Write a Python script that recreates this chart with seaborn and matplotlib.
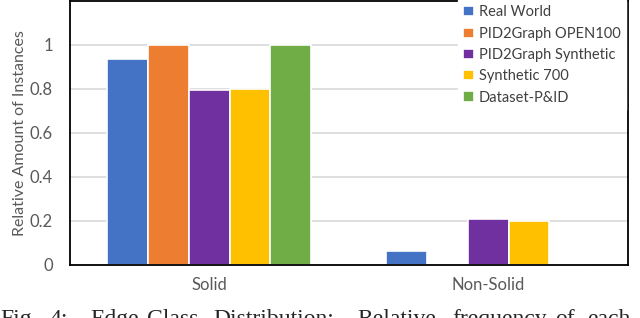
import pandas as pd
import matplotlib.pyplot as plt
import seaborn as sns

# Relative frequency of each edge class per dataset
classes = ['Solid', 'Non-Solid']
datasets = ['Real World', 'PID2Graph OPEN100', 'PID2Graph Synthetic', 'Synthetic 700', 'Dataset-P&ID']
solid = [0.935, 1.0, 0.793, 0.80, 1.0]
non_solid = [0.065, 0.0, 0.207, 0.20, 0.0]
colors = ['#4472C4', '#ED7D31', '#7030A0', '#FFC000', '#70AD47']

caption_words = ['Fig.', '4:', 'Edge', 'Class', 'Distribution:', 'Relative', 'frequency', 'of', 'each']
caption_x = [0, 50, 90, 147, 213, 357, 452, 555, 587]

df = pd.DataFrame({
    'Edge Class': [c for c in classes for _ in datasets],
    'Dataset': datasets * len(classes),
    'Value': solid + non_solid,
})

sns.set_style('white')
plt.rcParams['font.family'] = ['Lato', 'DejaVu Sans']

fig = plt.figure(figsize=(6.4, 3.18), dpi=100)
ax = fig.add_axes([0.109, 0.167, 0.872, 0.830])

sns.barplot(data=df, x='Edge Class', y='Value', hue='Dataset', hue_order=datasets,
            palette=colors, width=0.73, edgecolor='white', linewidth=1.2,
            saturation=1, ax=ax)

ax.set_ylim(0, 1.2)
ax.set_xlim(-0.5, 1.5)
ax.set_yticks([0, 0.2, 0.4, 0.6, 0.8, 1.0])
ax.set_yticklabels(['0', '0.2', '0.4', '0.6', '0.8', '1'])
ax.yaxis.grid(True, color='#D9D9D9', linewidth=1.2)
ax.set_axisbelow(True)
ax.tick_params(axis='y', direction='in', length=4, color='#404040', labelsize=12,
               labelcolor='#595959', pad=12)
ax.tick_params(axis='x', length=0, labelsize=12, labelcolor='#595959', pad=9)
ax.set_xticks([0.5], minor=True)
ax.tick_params(axis='x', which='minor', direction='in', length=5, color='black')
ax.set_xlabel('')
ax.set_ylabel('Relative Amount of Instances', fontsize=11.5, color='#595959', labelpad=2)
for s in ax.spines.values():
    s.set_color('black')
    s.set_linewidth(1.3)

# white legend box sits over the top spine, like the original Excel chart
leg = ax.legend(loc='upper left', bbox_to_anchor=(0.695, 1.005), fontsize=10.5,
                frameon=True, fancybox=False,
                edgecolor='white', framealpha=1, handlelength=0.7, handleheight=0.7,
                handletextpad=0.35, labelspacing=0.5, borderaxespad=0,
                borderpad=0.4)
for t in leg.get_texts():
    t.set_color('#404040')

for w, x in zip(caption_words, caption_x):
    fig.text(x / 640, -7 / 318, w, fontsize=17, family='Liberation Serif',
             va='baseline', ha='left')

plt.savefig('out.png', dpi=100)
